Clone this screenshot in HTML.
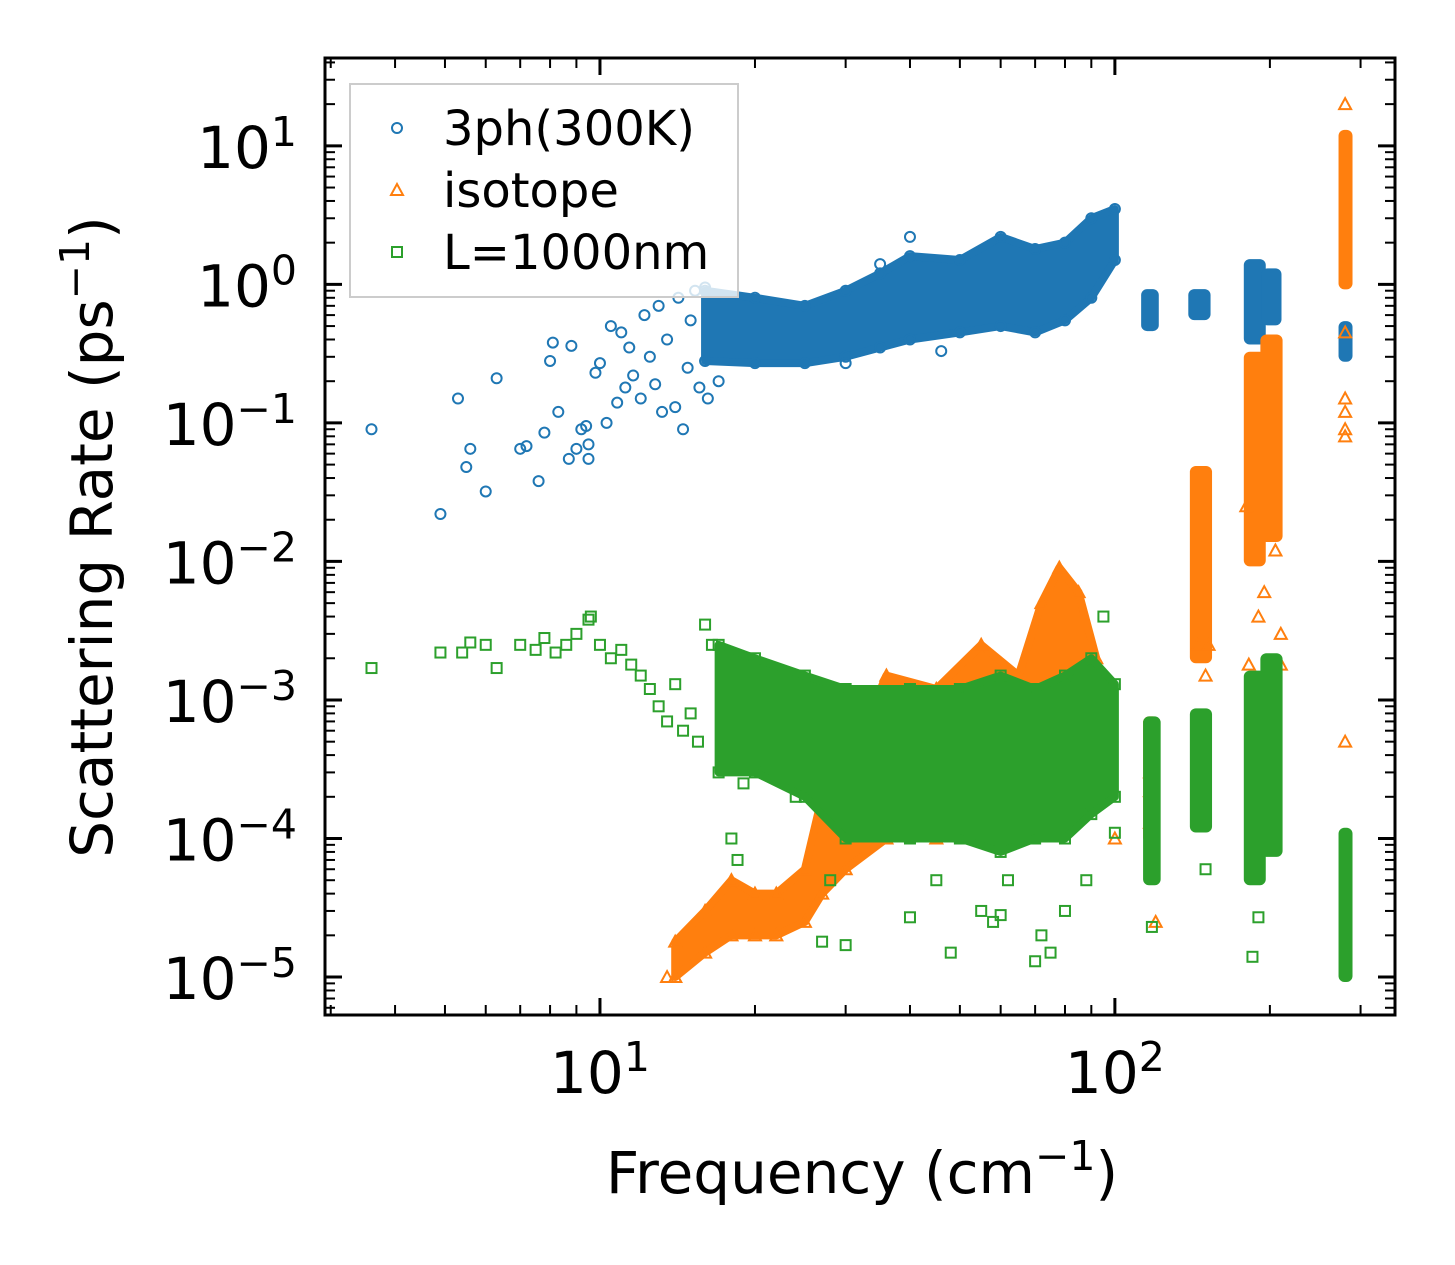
<!DOCTYPE html>
<html><head><meta charset="utf-8"><style>
html,body{margin:0;padding:0;background:#fff}
svg{display:block}
text{font-family:"DejaVu Sans","Liberation Sans",sans-serif;fill:#000}
</style></head><body>
<svg id="chart" width="1455" height="1265" viewBox="0 0 1455 1265" xmlns="http://www.w3.org/2000/svg">
<rect width="1455" height="1265" fill="#fff"/>
<g id="plot"></g>
<g id="axes"></g>
<text x="862" y="1193" font-size="58" text-anchor="middle">Frequency (cm<tspan dy="-23" font-size="41">−1</tspan><tspan dy="23">)</tspan></text>
<text transform="translate(112,537) rotate(-90)" font-size="58" text-anchor="middle">Scattering Rate (ps<tspan dy="-23" font-size="41">−1</tspan><tspan dy="23">)</tspan></text>
<g>
<rect x="350" y="84" width="388" height="213" fill="#fff" fill-opacity="0.8" stroke="#ccc" stroke-width="2"/>
<circle cx="397" cy="128" r="5" fill="none" stroke="#1f77b4" stroke-width="2"/>
<text x="443" y="145" font-size="48">3ph(300K)</text>
<polygon points="397,184 403,195 391,195" fill="none" stroke="#ff7f0e" stroke-width="2"/>
<text x="443" y="207" font-size="48">isotope</text>
<rect x="392" y="247" width="10" height="10" fill="none" stroke="#2ca02c" stroke-width="2"/>
<text x="443" y="269" font-size="48">L=1000nm</text>
</g>
</svg>
<script>
// ---- data (frequency cm^-1, rate ps^-1) ----
const blueSparse=[[3.6,0.09],[4.9,0.022],[5.3,0.15],[5.5,0.048],[5.6,0.065],[6.0,0.032],[6.3,0.21],[7.0,0.065],[7.2,0.068],[7.6,0.038],[7.8,0.085],[8.0,0.28],[8.1,0.38],[8.3,0.12],[8.7,0.055],[8.8,0.36],[9.0,0.065],[9.2,0.09],[9.4,0.095],[9.5,0.055],[9.5,0.07],[9.8,0.23],[10.0,0.27],[10.3,0.1],[10.5,0.5],[10.8,0.14],[11,0.45],[11.2,0.18],[11.4,0.35],[11.6,0.22],[12,0.15],[12.2,0.6],[12.5,0.3],[12.8,0.19],[13,0.7],[13.2,0.12],[13.5,0.4],[14,0.13],[14.2,0.8],[14.5,0.09],[14.8,0.25],[15,0.55],[15.3,0.9],[15.6,0.18],[16,0.95],[16.2,0.15],[17,0.2],[40,2.2],[35,1.4],[46,0.33],[30,0.27]];
const blueBand=[[16,0.28,0.9],[20,0.27,0.8],[25,0.27,0.7],[30,0.3,0.9],[35,0.35,1.2],[40,0.4,1.6],[50,0.45,1.5],[60,0.5,2.2],[70,0.45,1.8],[80,0.55,2.0],[90,0.8,3.0],[100,1.5,3.5]];
const blueClusters=[[115,119,0.5,0.85],[142,150,0.6,0.85],[182,192,0.4,1.4],[197,206,0.55,1.2],[278,283,0.3,0.5]];
const orangeSparse=[[280,20],[280,0.45],[280,0.15],[280,0.12],[280,0.09],[280,0.08],[280,0.0005],[180,0.025],[182,0.0018],[190,0.004],[195,0.006],[205,0.012],[210,0.003],[210,0.0018],[145,0.0025],[150,0.0015],[152,0.0025],[117,0.0003],[117,0.00022],[117,0.00013],[100,0.0001],[120,0.000025],[14,0.00001],[13.5,0.00001]];
const orangeBand=[[14,1e-5,1.8e-5],[16,1.5e-5,3e-5],[18,2e-5,5e-5],[20,2e-5,4e-5],[22,2e-5,4e-5],[25,2.5e-5,6e-5],[27,4e-5,2e-4],[30,6e-5,3e-4],[36,1e-4,1.5e-3],[45,1e-4,1.2e-3],[55,1e-4,2.5e-3],[65,1e-4,1.5e-3],[72,1.5e-4,5e-3],[78,2e-4,9e-3],[85,2e-4,6e-3],[92,3e-4,2e-3]];
const orangeClusters=[[116,119,1e-4,7e-4],[143,151,2e-3,4.5e-2],[182,192,1e-2,0.3],[196,207,1.5e-2,0.4],[278,283,1,12]];
const greenSparse=[[3.6,1.7e-3],[4.9,2.2e-3],[5.4,2.2e-3],[5.6,2.6e-3],[6,2.5e-3],[6.3,1.7e-3],[7,2.5e-3],[7.5,2.3e-3],[7.8,2.8e-3],[8.2,2.2e-3],[8.6,2.5e-3],[9,3e-3],[9.5,3.8e-3],[9.6,4e-3],[10,2.5e-3],[10.5,2e-3],[11,2.3e-3],[11.5,1.8e-3],[12,1.5e-3],[12.5,1.2e-3],[13,9e-4],[13.5,7e-4],[14,1.3e-3],[14.5,6e-4],[15,8e-4],[15.5,5e-4],[16,3.5e-3],[16.5,2.5e-3],[18,1e-4],[18.5,7e-5],[19,2.5e-4],[22,3e-4],[24,2e-4],[27,1.8e-5],[28,5e-5],[30,1.7e-5],[40,2.7e-5],[45,5e-5],[48,1.5e-5],[55,3e-5],[58,2.5e-5],[60,2.8e-5],[62,5e-5],[70,1.3e-5],[72,2e-5],[75,1.5e-5],[80,3e-5],[88,5e-5],[100,1.1e-4],[95,4e-3],[150,6e-5],[185,1.4e-5],[190,2.7e-5],[118,2.3e-5]];
const greenBand=[[17,3e-4,2.5e-3],[20,3e-4,2e-3],[25,2e-4,1.5e-3],[30,1e-4,1.2e-3],[40,1e-4,1.2e-3],[50,1e-4,1.2e-3],[60,8e-5,1.5e-3],[70,1e-4,1.2e-3],[80,1e-4,1.5e-3],[90,1.5e-4,2e-3],[100,2e-4,1.3e-3]];
const greenClusters=[[116,120,5e-5,7e-4],[143,151,1.2e-4,8e-4],[182,192,5e-5,1.5e-3],[196,207,8e-5,2e-3],[278,283,1e-5,1.1e-4]];
const xTickVals=[10,100];
const xTickLabels=["1","2"];
const yTickVals=[10,1,0.1,0.01,0.001,1e-4,1e-5];
const yTickLabels=["1","0","−1","−2","−3","−4","−5"];

// ---- axes ----
const L=325,R=1395,T=58,B=1015;
const xMin=0.466,xMax=2.544,yMin=-5.274,yMax=1.634;
const X=f=>L+(Math.log10(f)-xMin)/(xMax-xMin)*(R-L);
const Y=r=>B-(Math.log10(r)-yMin)/(yMax-yMin)*(B-T);
const NS="http://www.w3.org/2000/svg";
const plot=document.getElementById('plot'),axes=document.getElementById('axes');
function mk(tag,attrs,parent){const e=document.createElementNS(NS,tag);for(const k in attrs)e.setAttribute(k,attrs[k]);parent.appendChild(e);return e;}
const cols={blue:"#1f77b4",orange:"#ff7f0e",green:"#2ca02c"};
function marker(kind,f,r,col,name){
  const x=X(f),y=Y(r);let e;
  if(kind==='c')e=mk('circle',{cx:x,cy:y,r:5,fill:'none',stroke:col,'stroke-width':2},plot);
  else if(kind==='t')e=mk('polygon',{points:`${x},${y-6} ${x+6},${y+5} ${x-6},${y+5}`,fill:'none',stroke:col,'stroke-width':2},plot);
  else e=mk('rect',{x:x-5,y:y-5,width:10,height:10,fill:'none',stroke:col,'stroke-width':2},plot);
  
  
}
function band(data,col,name,kind){
  let pts=data.map(d=>X(d[0])+','+Y(d[2]));
  pts=pts.concat(data.slice().reverse().map(d=>X(d[0])+','+Y(d[1])));
  const p=mk('polygon',{points:pts.join(' '),fill:col,stroke:col,'stroke-width':8,'stroke-linejoin':'round'},plot);
  
  
  data.forEach(d=>{marker(kind,d[0],d[1],col,name+'-edge');marker(kind,d[0],d[2],col,name+'-edge');});
}
function clusters(data,col,name){
  data.forEach(d=>{
    const x1=X(d[0]),x2=X(d[1]),y1=Y(d[3]),y2=Y(d[2]);
    const e=mk('rect',{x:x1-5,y:y1-5,width:x2-x1+10,height:y2-y1+10,rx:6,fill:col},plot);
    
    
  });
}
band(blueBand,cols.blue,'3ph-dense-cloud','c');
clusters(blueClusters,cols.blue,'3ph-cluster');
blueSparse.forEach(d=>marker('c',d[0],d[1],cols.blue,'3ph-point'));
band(orangeBand,cols.orange,'isotope-dense-cloud','t');
clusters(orangeClusters,cols.orange,'isotope-cluster');
orangeSparse.forEach(d=>marker('t',d[0],d[1],cols.orange,'isotope-point'));
band(greenBand,cols.green,'boundary-dense-cloud','s');
clusters(greenClusters,cols.green,'boundary-cluster');
greenSparse.forEach(d=>marker('s',d[0],d[1],cols.green,'boundary-point'));

const fr=mk('rect',{x:L,y:T,width:R-L,height:B-T,fill:'none',stroke:'#000','stroke-width':3},axes);


function tick(x1,y1,x2,y2,w,name){const t=mk('line',{x1,y1,x2,y2,stroke:'#000','stroke-width':w},axes);}
for(let dec=0;dec<=2;dec++)for(let m=1;m<10;m++){
  const f=m*Math.pow(10,dec);const lf=Math.log10(f);if(lf<xMin||lf>xMax)continue;
  const x=X(f),len=m===1?17:10,w=m===1?3:2;
  tick(x,B,x,B-len,w,'x-tick');tick(x,T,x,T+len,w,'x-tick-top');
}
for(let dec=-6;dec<=1;dec++)for(let m=1;m<10;m++){
  const r=m*Math.pow(10,dec);const lr=Math.log10(r);if(lr<yMin||lr>yMax)continue;
  const y=Y(r),len=m===1?17:10,w=m===1?3:2;
  tick(L,y,L+len,y,w,'y-tick');tick(R,y,R-len,y,w,'y-tick-right');
}
xTickVals.forEach((v,i)=>{
  const t=mk('text',{x:X(v),y:1093,'font-size':58,'text-anchor':'middle'},axes);
  t.innerHTML='10<tspan dy="-22" font-size="41">'+xTickLabels[i]+'</tspan>';
  
  
});
yTickVals.forEach((v,i)=>{
  const t=mk('text',{x:297,y:Y(v)+22,'font-size':58,'text-anchor':'end'},axes);
  t.innerHTML='10<tspan dy="-22" font-size="41">'+yTickLabels[i]+'</tspan>';
  
  
});
</script>
</body></html>
